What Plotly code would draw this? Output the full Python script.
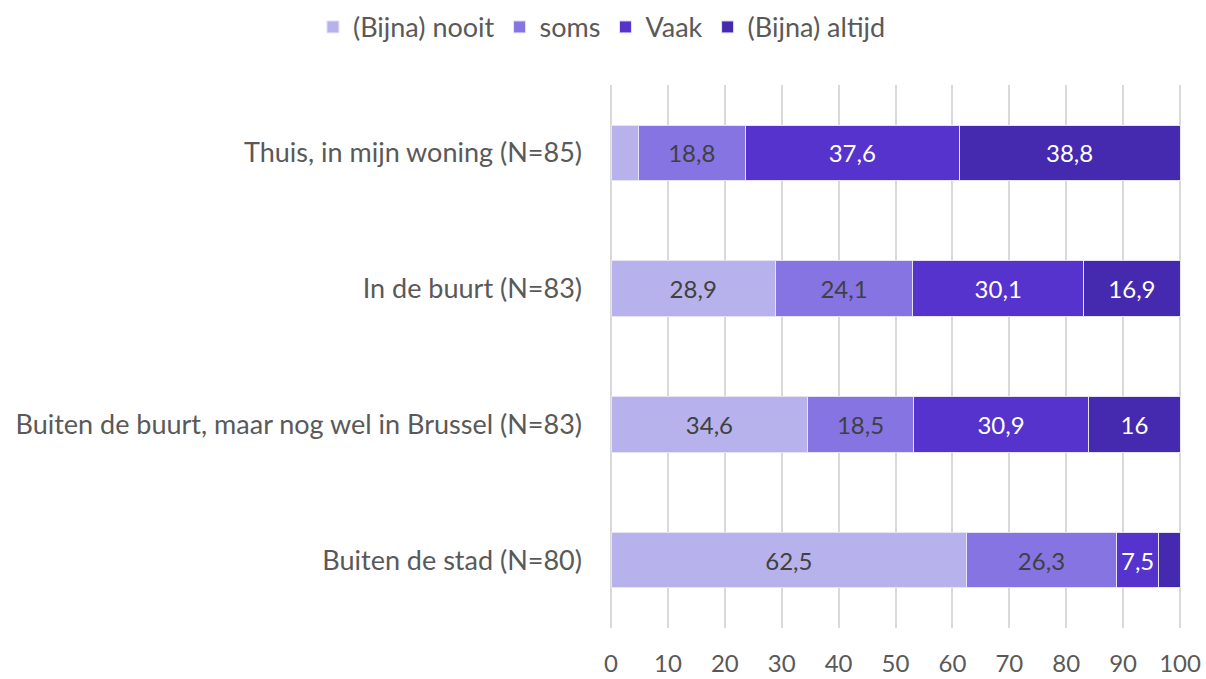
import plotly.graph_objects as go

categories = [
    "Thuis, in mijn woning (N=85)",
    "In de buurt (N=83)",
    "Buiten de buurt, maar nog wel in Brussel (N=83)",
    "Buiten de stad (N=80)",
]
series_names = ["(Bijna) nooit", "soms", "Vaak", "(Bijna) altijd"]
nooit = [4.8, 28.9, 34.6, 62.5]
soms = [18.8, 24.1, 18.5, 26.3]
vaak = [37.6, 30.1, 30.9, 7.5]
altijd = [38.8, 16.9, 16.0, 3.7]
show_label = [
    [False, True, True, True],
    [True, True, True, True],
    [True, True, True, True],
    [True, True, True, False],
]
colors = ["#b8b2ec", "#8674e3", "#5533cc", "#4529ae"]
text_colors = ["#404040", "#404040", "#ffffff", "#ffffff"]
x_ticks = [0, 10, 20, 30, 40, 50, 60, 70, 80, 90, 100]

FONT = "Lato"


def fmt(v):
    s = ("%.1f" % v).rstrip("0").rstrip(".")
    return s.replace(".", ",")


fig = go.Figure()
all_vals = [nooit, soms, vaak, altijd]
for i, (name, vals) in enumerate(zip(series_names, all_vals)):
    texts = [fmt(v) if show_label[i][j] else "" for j, v in enumerate(vals)]
    fig.add_trace(go.Bar(
        name=name,
        y=categories,
        x=vals,
        orientation="h",
        marker=dict(color=colors[i], line=dict(color="#e6e3f7", width=1)),
        text=texts,
        textposition="inside",
        insidetextanchor="middle",
        textangle=0,
        textfont=dict(family=FONT, size=24, color=text_colors[i]),
        constraintext="none",
        width=0.41,
        hoverinfo="x+y+name",
    ))

fig.update_layout(
    barmode="stack",
    width=1206,
    height=679,
    paper_bgcolor="white",
    plot_bgcolor="white",
    margin=dict(l=611, r=24, t=85, b=51, autoexpand=False),
    font=dict(family=FONT, color="#595959"),
    uniformtext=dict(mode=False),
    legend=dict(
        orientation="h",
        x=-0.522, xref="paper", xanchor="left",
        y=1.061, yref="paper", yanchor="bottom",
        font=dict(family=FONT, size=27, color="#595959"),
        traceorder="normal",
        itemwidth=30,
        tracegroupgap=0,
    ),
    xaxis=dict(
        range=[0, 100.35],
        tickvals=x_ticks,
        ticktext=[str(t) for t in x_ticks],
        showgrid=True,
        gridcolor="#d9d9d9",
        gridwidth=1.5,
        zeroline=True,
        zerolinecolor="#d9d9d9",
        zerolinewidth=1.5,
        showline=False,
        automargin=False,
        ticklabeloverflow="allow",
        tickfont=dict(family=FONT, size=24, color="#595959"),
        ticklabelstandoff=19,
    ),
    yaxis=dict(
        categoryorder="array",
        categoryarray=categories,
        autorange="reversed",
        showgrid=False,
        zeroline=False,
        showline=False,
        automargin=False,
        tickfont=dict(family=FONT, size=27, color="#595959"),
        ticklabelstandoff=28,
    ),
)

fig.write_html(
    "out.html",
    config={"displayModeBar": False},
    post_script="document.body.style.margin='0';",
)
